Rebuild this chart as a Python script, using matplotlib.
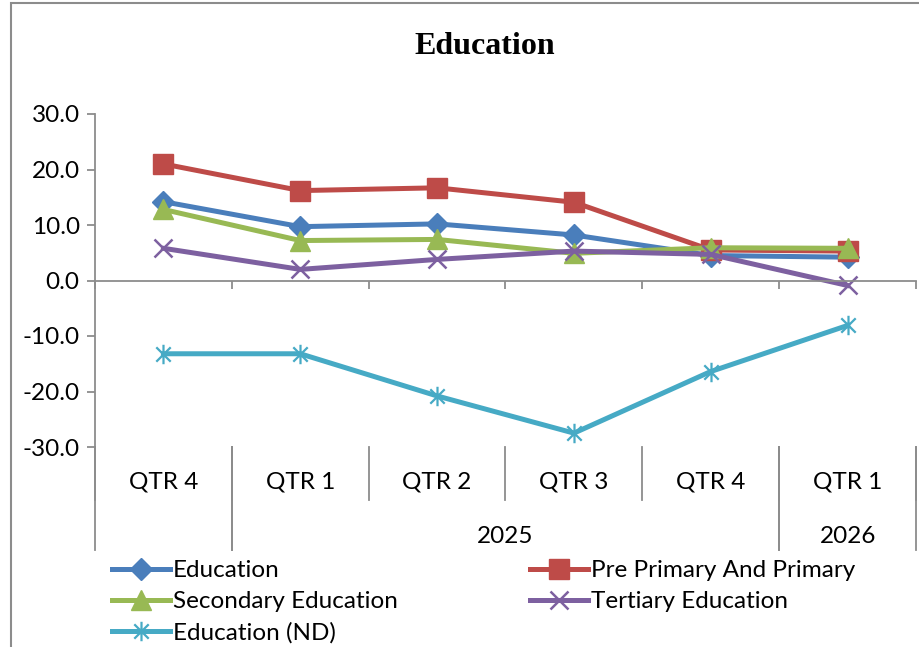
import matplotlib
matplotlib.use("Agg")
import matplotlib.pyplot as plt
from matplotlib.path import Path
from matplotlib.patches import Rectangle
import matplotlib.transforms as mtrans

plt.rcParams['font.family'] = ['Lato', 'DejaVu Sans']

quarters = ['QTR 4', 'QTR 1', 'QTR 2', 'QTR 3', 'QTR 4', 'QTR 1']
years = ['', '2025', '2026']
year_spans = [(0, 1), (1, 5), (5, 6)]   # category index ranges per year

education = [14.2, 9.7, 10.2, 8.2, 4.5, 4.2]
pre_primary = [21.0, 16.2, 16.7, 14.1, 5.5, 5.3]
secondary = [12.8, 7.2, 7.4, 4.9, 5.9, 5.8]
tertiary = [5.8, 2.0, 3.8, 5.3, 4.7, -0.9]
education_nd = [-13.2, -13.2, -20.8, -27.5, -16.4, -8.1]

# excel style asterisk marker
star = Path([(-1, -1), (1, 1), (-1, 1), (1, -1), (0, -1.35), (0, 1.35)],
            [Path.MOVETO, Path.LINETO, Path.MOVETO, Path.LINETO, Path.MOVETO, Path.LINETO])

fig = plt.figure(figsize=(9.2, 6.47), dpi=100)
fig.patches.append(Rectangle((11/920, -0.1), 1.2, 1 - 3/647 + 0.1, transform=fig.transFigure,
                             fill=False, edgecolor='#8c8c8c', linewidth=1.5))

ax = fig.add_axes([95/920, 1 - 447/647, 821/920, 333/647])
x = list(range(len(quarters)))

lw = 3.6
l1, = ax.plot(x, education, color='#4A7EBB', lw=lw, marker='D', ms=11, label='Education')
l2, = ax.plot(x, pre_primary, color='#BE4B48', lw=lw, marker='s', ms=14, label='Pre Primary And Primary')
l3, = ax.plot(x, secondary, color='#98B954', lw=lw, marker='^', ms=15, label='Secondary Education')
l4, = ax.plot(x, tertiary, color='#7D60A0', lw=lw, marker='x', ms=13, mew=1.8, label='Tertiary Education')
l5, = ax.plot(x, education_nd, color='#46AAC5', lw=lw, marker=star, ms=14, mew=1.6, label='Education (ND)')

ax.set_xlim(-0.5, len(quarters) - 0.5)
ax.set_ylim(-30, 30)
ax.set_yticks(range(-30, 31, 10))
ax.set_yticklabels(['%.1f' % v for v in range(-30, 31, 10)])
ax.tick_params(axis='y', direction='out', length=6, width=1.3, color='#8c8c8c', labelsize=17.5, pad=5)
ax.set_xticks([i - 0.5 for i in range(len(quarters) + 1)])
ax.set_xticklabels([])
ax.tick_params(axis='x', direction='out', length=6, width=1.3, color='#8c8c8c')
for s in ['top', 'right']:
    ax.spines[s].set_visible(False)
ax.spines['left'].set_color('#8c8c8c')
ax.spines['left'].set_linewidth(1.3)
ax.spines['bottom'].set_position(('data', 0))
ax.spines['bottom'].set_color('#8c8c8c')
ax.spines['bottom'].set_linewidth(1.3)

# category labels below the plot
tr = mtrans.blended_transform_factory(ax.transData, ax.transAxes)
for i, q in enumerate(quarters):
    ax.text(i, -0.105, q, transform=tr, ha='center', va='center', fontsize=17.5)
for i in range(len(quarters) + 1):
    ax.plot([i - 0.5, i - 0.5], [0, -0.16], transform=tr, color='#8c8c8c', lw=1.3, clip_on=False)
for (a, b), yr in zip(year_spans, years):
    ax.plot([a - 0.5, a - 0.5], [0, -0.31], transform=tr, color='#8c8c8c', lw=1.3, clip_on=False)
    ax.plot([b - 0.5, b - 0.5], [0, -0.31], transform=tr, color='#8c8c8c', lw=1.3, clip_on=False)
    if yr:
        ax.text((a + b - 1) / 2, -0.27, yr, transform=tr, ha='center', va='center', fontsize=17.5)

fig.text(485/920, 1 - 47/647, 'Education', ha='center', va='center', fontsize=23,
         fontweight='bold', family=['Liberation Serif', 'DejaVu Serif'])

leg_opts = dict(loc='upper left', frameon=False, fontsize=17.5, handlelength=2.4,
                handletextpad=0.1, labelspacing=0.42, borderpad=0, borderaxespad=0)
leg1 = fig.legend([l1, l3, l5], [l1.get_label(), l3.get_label(), l5.get_label()],
                  bbox_to_anchor=(112/920, 1 - 560/647), **leg_opts)
leg2 = fig.legend([l2, l4], [l2.get_label(), l4.get_label()],
                  bbox_to_anchor=(530/920, 1 - 560/647), **leg_opts)

fig.savefig('out.png', dpi=100)
